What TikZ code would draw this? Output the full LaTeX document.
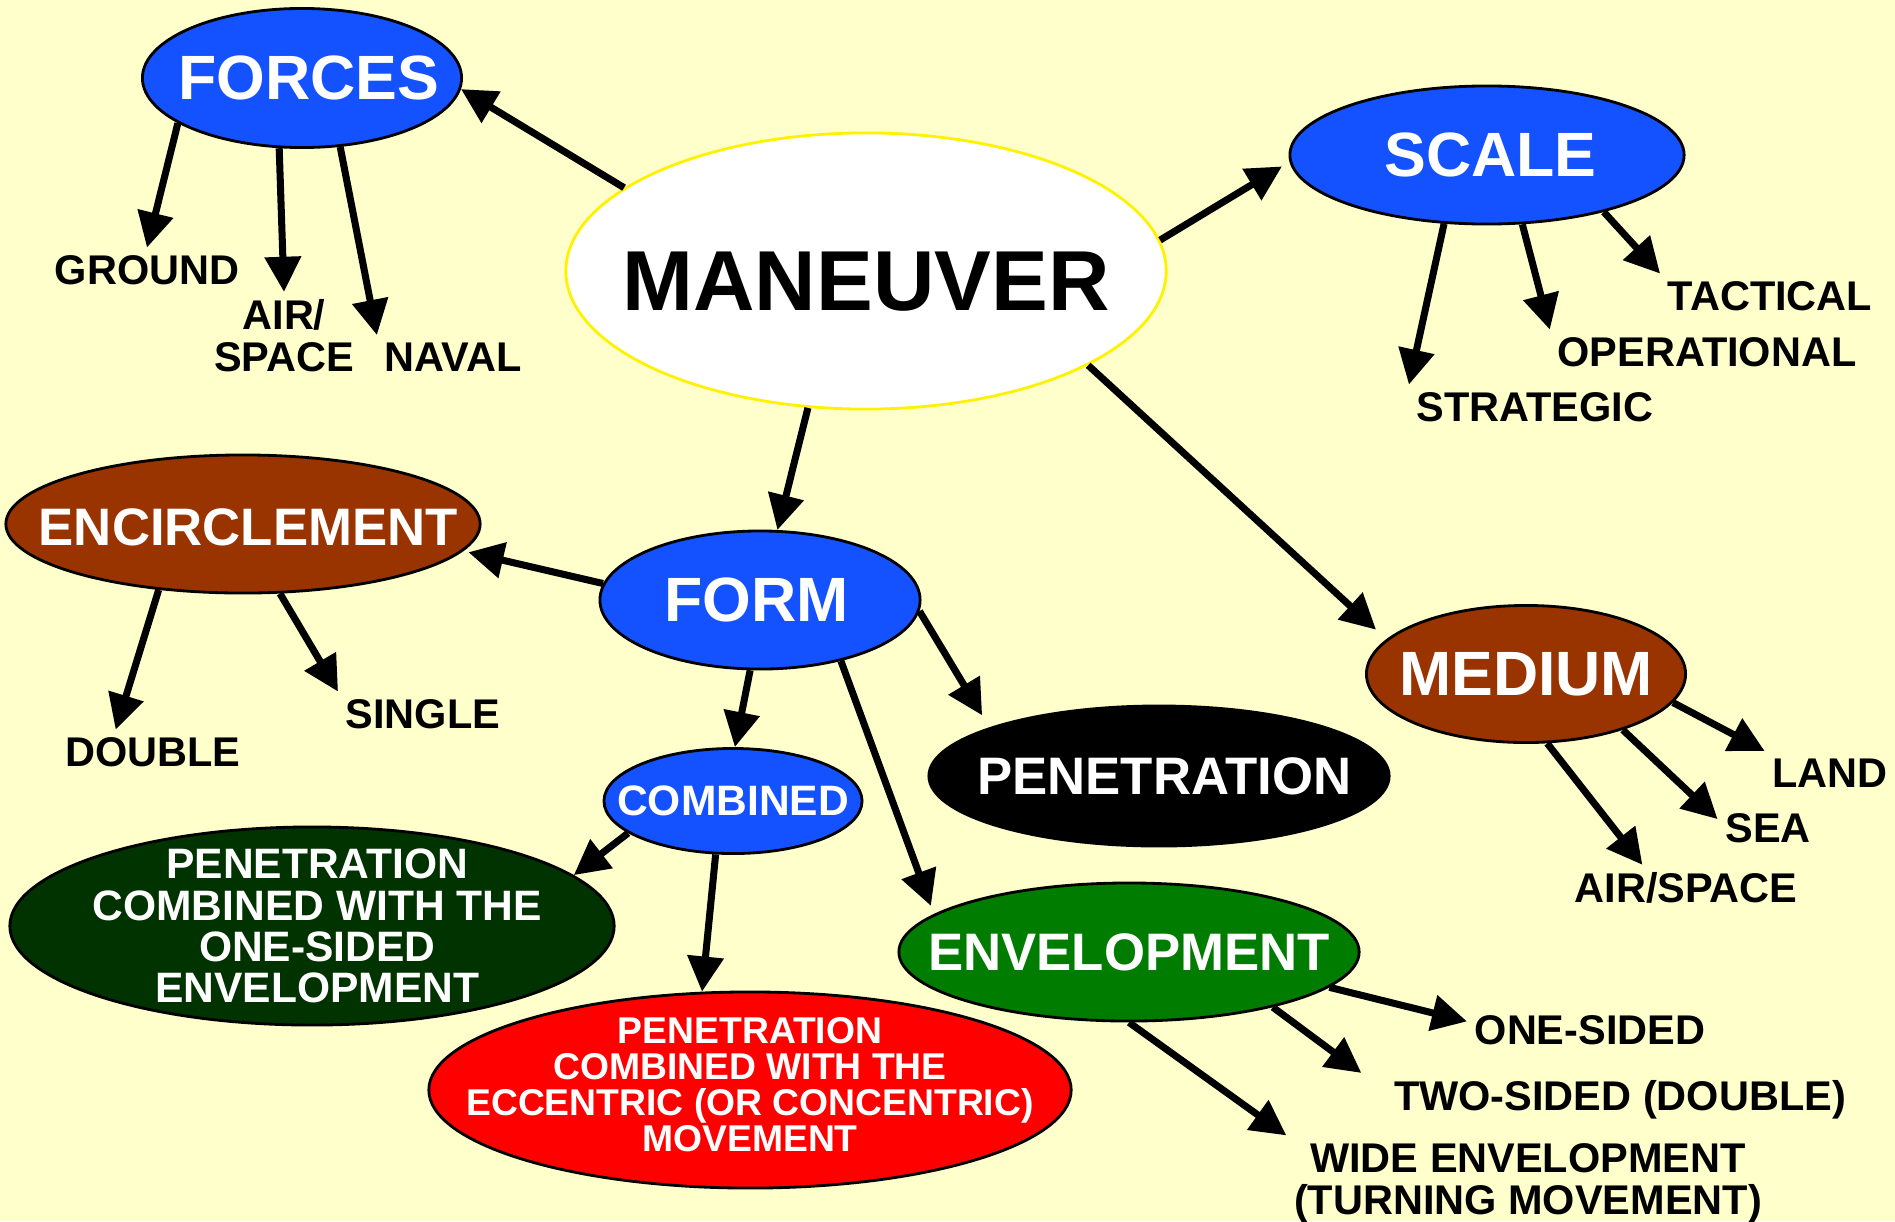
\documentclass[tikz,border=0pt]{standalone}
\usepackage{fontspec}
\setmainfont{Liberation Sans}
\usetikzlibrary{arrows.meta, shapes.geometric, calc}
\definecolor{paleyellow}{RGB}{255,255,204}
\definecolor{bubbleblue}{RGB}{20,82,255}
\definecolor{rustbrown}{RGB}{153,51,0}
\definecolor{darkgreen}{RGB}{0,51,0}
\definecolor{envgreen}{RGB}{0,125,0}
\newcommand{\boldsize}[2]{\fontsize{#1}{#2}\selectfont\bfseries}

\begin{document}
\begin{tikzpicture}[x=0.01cm, y=-0.01cm,
        bubble/.style={ellipse, draw=black, line width=0.8pt, inner sep=0pt},
        bubtext/.style={text=white, align=center, inner sep=0pt},
        leaf/.style={align=center, inner sep=2pt, font=\boldsize{11.8}{12}},
        arrow/.style={-{Triangle[length=10pt, width=10pt]}, line width=2pt}
    ]
        % Page
        \useasboundingbox (0,0) rectangle (1895,1221);
        \fill[paleyellow] (0,0) rectangle (1895,1221);

        % Centre
        \node[bubble, draw=yellow, fill=white, minimum width=6cm, minimum height=2.76cm,
            label={[bubtext, text=black, yshift=-3pt, font=\boldsize{24.2}{25}]center:MANEUVER}]
            (maneuver) at (866,271) {};

        % First ring
        \node[bubble, fill=bubbleblue, minimum width=3.19cm, minimum height=1.39cm,
            label={[bubtext, xshift=2pt, font=\boldsize{17.8}{18}]center:FORCES}] (forces) at (302,78) {};
        \node[bubble, fill=bubbleblue, minimum width=3.94cm, minimum height=1.38cm,
            label={[bubtext, xshift=1pt, font=\boldsize{17.8}{18}]center:SCALE}] (scale) at (1487,155) {};
        \node[bubble, fill=bubbleblue, minimum width=3.2cm, minimum height=1.38cm,
            label={[bubtext, xshift=-1pt, font=\boldsize{17.8}{18}]center:FORM}] (form) at (760,600) {};
        \node[bubble, fill=rustbrown, minimum width=3.19cm, minimum height=1.37cm,
            label={[bubtext, font=\boldsize{17.8}{18}]center:MEDIUM}] (medium) at (1526,674) {};

        % Forms
        \node[bubble, fill=rustbrown, minimum width=4.74cm, minimum height=1.38cm,
            label={[bubtext, xshift=1.5pt, yshift=-1pt, font=\boldsize{15}{16}]center:ENCIRCLEMENT}] (encircle) at (243,524) {};
        \node[bubble, fill=black, minimum width=4.6cm, minimum height=1.4cm,
            label={[bubtext, xshift=1.5pt, font=\boldsize{15}{16}]center:PENETRATION}] (penetration) at (1159,776) {};
        \node[bubble, fill=envgreen, minimum width=4.6cm, minimum height=1.38cm,
            label={[bubtext, font=\boldsize{15}{16}]center:ENVELOPMENT}] (envelop) at (1129,952) {};
        \node[bubble, fill=bubbleblue, minimum width=2.58cm, minimum height=1.05cm,
            label={[bubtext, font=\boldsize{12.1}{13}]center:COMBINED}] (combined) at (733,801) {};
        \node[bubble, fill=darkgreen, minimum width=6.04cm, minimum height=1.98cm,
            label={[bubtext, xshift=1.5pt, font=\boldsize{12.1}{11.7}]center:PENETRATION\\COMBINED WITH THE\\ONE-SIDED\\ENVELOPMENT}]
            (pencomb) at (312,926) {};
        \node[bubble, fill=red, minimum width=6.42cm, minimum height=1.96cm,
            label={[bubtext, yshift=1.5pt, font=\boldsize{10.6}{10.2}]center:PENETRATION\\COMBINED WITH THE\\ECCENTRIC (OR CONCENTRIC)\\MOVEMENT}]
            (penecc) at (750,1090) {};

        % Leaves
        \node[leaf] (ground) at (147,270) {GROUND};
        \node[leaf] (forceair) at (284,336) {AIR/\\SPACE};
        \node[leaf] (naval) at (453,357) {NAVAL};
        \node[leaf] (tactical) at (1770,296) {TACTICAL};
        \node[leaf] (operational) at (1707,352) {OPERATIONAL};
        \node[leaf] (strategic) at (1535,407) {STRATEGIC};
        \node[leaf] (double) at (153,752) {DOUBLE};
        \node[leaf] (single) at (423,714) {SINGLE};
        \node[leaf] (land) at (1830,773) {LAND};
        \node[leaf] (sea) at (1768,828) {SEA};
        \node[leaf] (mediumair) at (1686,888) {AIR/SPACE};
        \node[leaf] (onesided) at (1590,1030) {ONE-SIDED};
        \node[leaf] (twosided) at (1620,1100) {TWO-SIDED (DOUBLE)};
        \node[leaf] (wide) at (1528,1183) {WIDE ENVELOPMENT\\(TURNING MOVEMENT)};

        % Arrows
        \draw[arrow] (maneuver.161) -- (forces.356);
        \draw[arrow, shorten >=2.5pt] (maneuver.6) -- (scale.182);
        \draw[arrow] (maneuver.247) -- (form.76);
        \draw[arrow, shorten >=4pt] (maneuver.337) -- (medium.166);

        \draw[arrow] (forces.200) -- (ground.north);
        \draw[arrow] (forces.252) -- (forceair.north);
        \draw[arrow] (forces.299) -- (naval.north west);

        \draw[arrow] (scale.238) -- (strategic.north west);
        \draw[arrow] (scale.297) -- (operational.north west);
        \draw[arrow] (scale.334) -- (tactical.north west);

        \draw[arrow, shorten >=1.5pt] (form.174) -- (encircle.353);
        \draw[arrow] (form.262) -- (combined.88);
        \draw[arrow, shorten >=4pt] (form.356) -- (penetration.164);
        \draw[arrow, shorten >=2.5pt] (form.323) -- (envelop.169);

        \draw[arrow] (encircle.218) -- (double.149);
        \draw[arrow] (encircle.298) -- (single.north west);

        \draw[arrow] (combined.197) -- (pencomb.11);
        \draw[arrow] (combined.252) -- (penecc.116);

        \draw[arrow] (medium.349) -- (land.north west);
        \draw[arrow] (medium.330) -- (sea.170);
        \draw[arrow] (medium.287) -- (mediumair.152);

        \draw[arrow] (envelop.350) -- (onesided.176);
        \draw[arrow] (envelop.339) -- ($(twosided.north west)+(-25,0)$);
        \draw[arrow] (envelop.south) -- (wide.north west);
    \end{tikzpicture}
\end{document}
